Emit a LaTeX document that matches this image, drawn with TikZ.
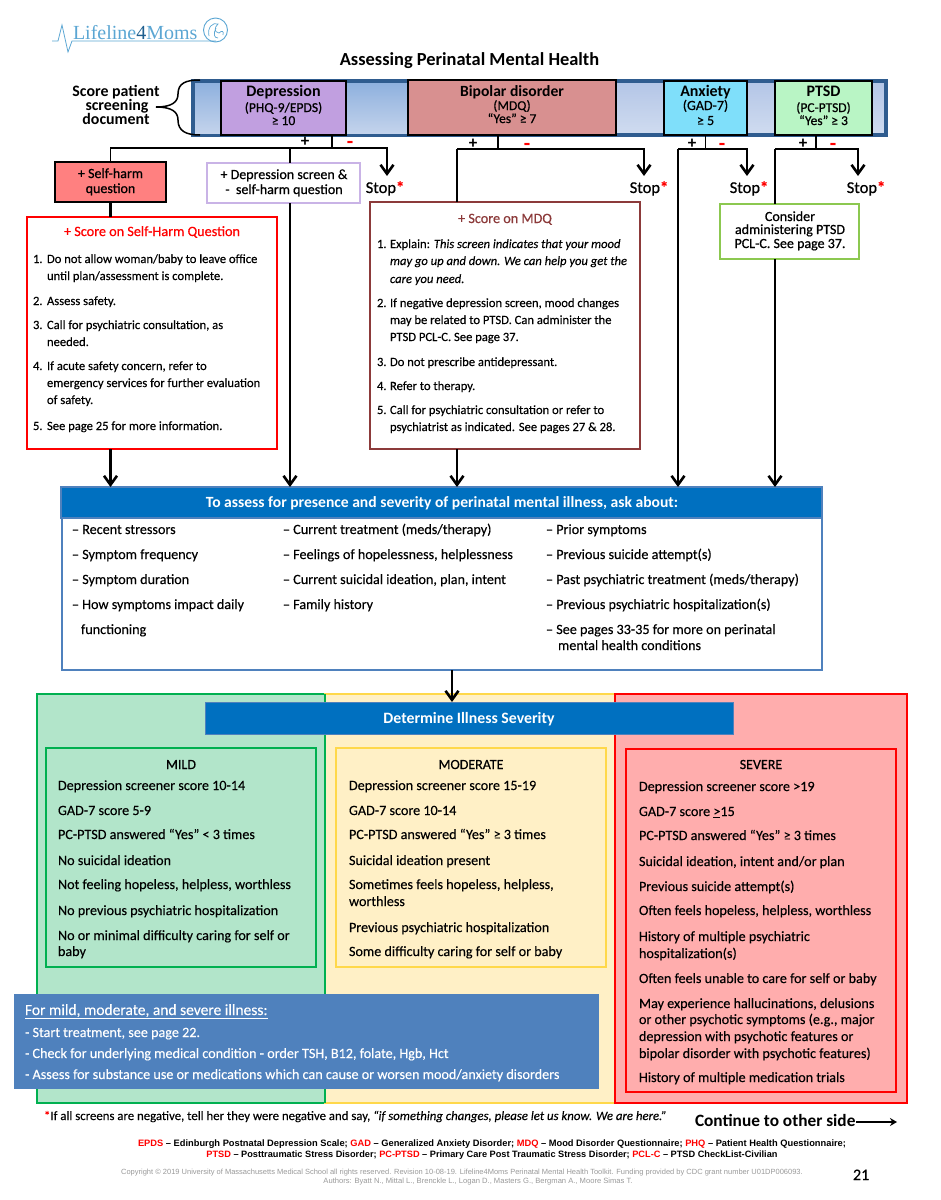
\documentclass[tikz,border=0pt]{standalone}
\usepackage{fontspec}
\setmainfont[FakeBold=0.22,BoldFeatures={FakeBold=0},BoldItalicFeatures={FakeBold=0}]{Carlito}
\newfontfamily\medf[FakeBold=0.6]{Carlito}
\newfontfamily\arialf{Liberation Sans}
\newfontfamily\serifl{Liberation Serif}
\usetikzlibrary{arrows.meta}
\definecolor{barb}{HTML}{2F5C8F}
\definecolor{hdrblue}{HTML}{0070C0}
\definecolor{hdredge}{HTML}{4F81BD}
\definecolor{pmild}{HTML}{B2E5CA}
\definecolor{pmod}{HTML}{FFF0C6}
\definecolor{psev}{HTML}{FFADAD}
\definecolor{egreen}{HTML}{00B050}
\definecolor{eyel}{HTML}{FFD84A}
\definecolor{lilac}{HTML}{C9B3E6}
\definecolor{mdqred}{HTML}{8C3A3A}
\definecolor{lime}{HTML}{8CC850}
\definecolor{logob}{HTML}{5BA6D3}
\definecolor{logod}{HTML}{1F5F8F}
\definecolor{bluebox}{HTML}{4F81BD}
\definecolor{bartop}{HTML}{8FB1DE}
\definecolor{barbot}{HTML}{C3D3EC}
\definecolor{bartopb}{HTML}{B3C5E6}
\definecolor{barbotb}{HTML}{D0DCF0}
\newcommand{\fs}[1]{\fontsize{#1}{#1}\selectfont}
\newcounter{tc}
\newcommand{\tl}[4][]{\stepcounter{tc}\node[tx,#1] (t\arabic{tc}) at (#2,#3+4) {#4};}
\newcommand{\tcn}[4][]{\stepcounter{tc}\node[tx,anchor=base,#1] (t\arabic{tc}) at (#2,#3+4) {#4};}
\newcommand{\bx}[6][]{\pgfmathsetmacro\cxx{(#3+#5)/2}\pgfmathsetmacro\cyy{(#4+#6)/2}\pgfmathsetmacro\wxx{#5-#3}\pgfmathsetmacro\hyy{#6-#4}\node[rectangle,inner sep=0pt,outer sep=0pt,minimum width=\wxx pt,minimum height=\hyy pt,#1] (#2) at (\cxx,\cyy) {};}
\newcommand{\stopmark}[3]{\node[tx,anchor=base,font=\medf\fs{16.5}] (#1) at (#2,#3+5) {Stop{\color{red}\bfseries *}};}
\tikzset{
  tx/.style={inner sep=0pt,outer sep=0pt,anchor=base west,font=\fs{14.15},text=black},
  sm/.style={font=\fs{12.6}},
  md/.style={font=\medf\fs{14}},
  lnk/.style={draw=black,line width=1.6pt},
  lnkb/.style={draw=black,line width=2.6pt},
  arr/.style={draw=black,line width=2.6pt,-{Straight Barb[length=9pt,width=13pt,line width=2.6pt]}},
  plusm/.style={tx,anchor=center,font=\fs{17}\bfseries},
  minusm/.style={tx,anchor=center,font=\fs{21}\bfseries,text=red}
}
\begin{document}
\begin{tikzpicture}[x=1pt,y=-1pt]
\useasboundingbox (0,0) rectangle (941,1200);
% logo
\node[tx,font=\serifl\fs{20},text=logob] (logotext) at (73,39) {Lifeline{\color{logod}4}Moms};
\coordinate (lg0) at (52,41);
\coordinate (lg9) at (216,41);
\draw[logob,line width=0.8pt] (lg0) -- (58,41) -- (62,25) -- (68,52) -- (72,41) -- (lg9);
\node[circle,draw=logob,line width=0.9pt,minimum size=24pt,inner sep=0pt] (logoc) at (215.5,30) {};
\draw[logob,line width=0.7pt] (209,36) .. controls (207,27) and (213,22) .. (218,24) .. controls (214,28) and (214,32) .. (219,33) .. controls (222,30) and (224,31) .. (223,35) (216,28) .. controls (213,34) and (214,38) .. (218,38);
% title
\node[tx,anchor=base,font=\fs{18.4}\bfseries] (title) at (469.5,65) {Assessing Perinatal Mental Health};
% top bar
\bx[draw=barb,line width=3.5pt,top color=bartopb,bottom color=barbotb]{bar}{193}{81}{886}{135}
\bx[top color=bartop,bottom color=barbot]{bl}{195}{83}{221}{133}
\bx[top color=bartop,bottom color=barbot]{bm}{346}{83}{408}{133}
\bx[draw=black,line width=1.4pt,fill={rgb,255:red,193;green,159;blue,224}]{dep}{221}{81}{346}{135}
\bx[draw=black,line width=1.4pt,fill={rgb,255:red,216;green,144;blue,144}]{bip}{408}{80}{616}{135}
\bx[draw=black,line width=1.4pt,fill={rgb,255:red,127;green,223;blue,250}]{anx}{664}{81}{747}{135}
\bx[draw=black,line width=1.4pt,fill={rgb,255:red,185;green,245;blue,197}]{pts}{775}{81}{872}{135}
\tcn[font=\fs{16}\bfseries]{283.5}{92}{Depression}
\tcn[md,font=\medf\fs{13.6}]{283.5}{108}{(PHQ-9/EPDS)}
\tcn[md,font=\medf\fs{13.6}]{283.5}{121}{≥ 10}
\tcn[font=\fs{15.6}\bfseries]{512}{92}{Bipolar disorder}
\tcn[font=\medf\fs{13.5}]{512}{106}{(MDQ)}
\tcn[font=\medf\fs{13.5}]{512}{119}{“Yes” ≥ 7}
\tcn[font=\fs{16}\bfseries]{705.5}{92}{Anxiety}
\tcn[font=\medf\fs{14}]{705.5}{106}{(GAD-7)}
\tcn[font=\medf\fs{14}]{705.5}{121}{≥ 5}
\tcn[font=\fs{16}\bfseries]{823.5}{92}{PTSD}
\tcn[font=\medf\fs{13.5}]{823.5}{108}{(PC-PTSD)}
\tcn[font=\medf\fs{13.5}]{823.5}{121}{“Yes” ≥ 3}
% score label and brace
\tcn[font=\fs{15.9}\bfseries]{116}{92}{Score patient}
\tcn[font=\fs{15.9}\bfseries]{117}{106}{screening}
\tcn[font=\fs{15.9}\bfseries]{116}{120}{document}
\coordinate (brt) at (200,80);
\coordinate (brb) at (200,135);
\coordinate (brc) at (156,107);
\draw[black,line width=1.5pt] (brt) .. controls (186,80) and (178,83) .. (178,94) .. controls (178,102) and (172,107) .. (brc) .. controls (172,107) and (178,112) .. (178,120) .. controls (178,131) and (186,135) .. (brb);
% boxes row 2
\bx[draw=black,line width=1.5pt,fill={rgb,255:red,255;green,128;blue,128}]{shq}{55}{162}{166}{202}
\tcn[md]{110.5}{174}{+ Self-harm}
\tcn[md]{110.5}{189}{question}
\bx[draw=lilac,line width=2.6pt,fill=white]{dsq}{207}{163}{360}{203}
\tcn[md]{284}{175}{+ Depression screen \&}
\tcn[md]{284}{190}{-\ \ self-harm question}
% self-harm box
\bx[draw=red,line width=2.2pt,fill=white]{shb}{27}{217}{277}{449}
\tcn[font=\medf\fs{14.2},text=red]{152}{232}{+ Score on Self-Harm Question}
\tl[sm]{33}{259}{1.}\tl[sm]{47}{259}{Do not allow woman/baby to leave office}
\tl[sm]{47}{276}{until plan/assessment is complete.}
\tl[sm]{33}{301}{2.}\tl[sm]{47}{301}{Assess safety.}
\tl[sm]{33}{325}{3.}\tl[sm]{47}{325}{Call for psychiatric consultation, as}
\tl[sm]{47}{342}{needed.}
\tl[sm]{33}{366}{4.}\tl[sm]{47}{366}{If acute safety concern, refer to}
\tl[sm]{47}{383}{emergency services for further evaluation}
\tl[sm]{47}{400}{of safety.}
\tl[sm]{33}{426}{5.}\tl[sm]{47}{426}{See page 25 for more information.}
% MDQ box
\bx[draw=mdqred,line width=2.2pt,fill=white]{mdq}{370}{202}{640}{449}
\tcn[font=\medf\fs{14.2},text=mdqred]{505}{219}{+ Score on MDQ}
\tl[sm]{377}{244}{1.}\tl[sm]{390}{244}{Explain: \textit{This screen indicates that your mood}}
\tl[sm]{390}{261}{\textit{may go up and down. We can help you get the}}
\tl[sm]{390}{279}{\textit{care you need.}}
\tl[sm]{377}{303}{2.}\tl[sm]{390}{303}{If negative depression screen, mood changes}
\tl[sm]{390}{320}{may be related to PTSD. Can administer the}
\tl[sm]{390}{337}{PTSD PCL-C. See page 37.}
\tl[sm]{377}{362}{3.}\tl[sm]{390}{362}{Do not prescribe antidepressant.}
\tl[sm]{377}{386}{4.}\tl[sm]{390}{386}{Refer to therapy.}
\tl[sm]{377}{410}{5.}\tl[sm]{390}{410}{Call for psychiatric consultation or refer to}
\tl[sm]{390}{427}{psychiatrist as indicated. See pages 27 \& 28.}
% PCL box
\bx[draw=lime,line width=2.2pt,fill=white]{pcl}{720}{204}{859}{259}
\tcn[md]{790}{217}{Consider}
\tcn[md]{790}{230}{administering PTSD}
\tcn[md]{790}{244}{PCL-C. See page 37.}
% stop labels
\stopmark{st1}{385}{188}
\stopmark{st2}{649}{188}
\stopmark{st3}{749}{188}
\stopmark{st4}{866}{188}
% assess header and box
\bx[draw=hdredge,line width=1.4pt,fill=white]{asb}{62}{518}{822}{670}
\bx[draw=hdredge,line width=1.4pt,fill=hdrblue]{ash}{61}{487}{822}{518}
\tcn[font=\fs{15.6}\bfseries,text=white]{442}{503}{To assess for presence and severity of perinatal mental illness, ask about:}
\tl{72}{530}{– Recent stressors}
\tl{72}{555}{– Symptom frequency}
\tl{72}{580}{– Symptom duration}
\tl{72}{605}{– How symptoms impact daily}
\tl{81}{630}{functioning}
\tl{283}{530}{– Current treatment (meds/therapy)}
\tl{283}{555}{– Feelings of hopelessness, helplessness}
\tl{283}{580}{– Current suicidal ideation, plan, intent}
\tl{283}{605}{– Family history}
\tl{546}{530}{– Prior symptoms}
\tl{546}{555}{– Previous suicide attempt(s)}
\tl{546}{580}{– Past psychiatric treatment (meds/therapy)}
\tl{546}{605}{– Previous psychiatric hospitalization(s)}
\tl{546}{630}{– See pages 33-35 for more on perinatal}
\tl{558}{646}{mental health conditions}
% severity panels
\bx[draw=egreen,line width=1.2pt,fill=pmild]{pm}{37}{694}{325}{1103}
\bx[draw=eyel,line width=1.2pt,fill=pmod]{pd}{325}{694}{615}{1103}
\bx[draw=red,line width=1.2pt,fill=psev]{ps}{615}{694}{907}{1103}
\draw[egreen,line width=1.2pt] (pm.north east) -- (pm.south east);
\bx[draw=hdredge,line width=0.8pt,fill=hdrblue]{dis}{205}{702}{733}{734}
\tcn[font=\fs{15.8}\bfseries,text=white]{469}{719}{Determine Illness Severity}
\bx[draw=egreen,line width=2.2pt]{mi}{46}{748}{316}{967}
\bx[draw=eyel,line width=2.2pt]{mo}{336}{748}{606}{967}
\bx[draw=red,line width=2.2pt]{se}{626}{749}{896}{1092}
\tcn[md]{181}{765}{MILD}
\tl{58}{786}{Depression screener score 10-14}
\tl{58}{811}{GAD-7 score 5-9}
\tl{58}{835}{PC-PTSD answered “Yes” < 3 times}
\tl{58}{861}{No suicidal ideation}
\tl{58}{885}{Not feeling hopeless, helpless, worthless}
\tl{58}{911}{No previous psychiatric hospitalization}
\tl{58}{936}{No or minimal difficulty caring for self or}
\tl{58}{952}{baby}
\tcn[md]{471}{765}{MODERATE}
\tl{349}{786}{Depression screener score 15-19}
\tl{349}{811}{GAD-7 score 10-14}
\tl{349}{835}{PC-PTSD answered “Yes” ≥ 3 times}
\tl{349}{861}{Suicidal ideation present}
\tl{349}{885}{Sometimes feels hopeless, helpless,}
\tl{349}{902}{worthless}
\tl{349}{928}{Previous psychiatric hospitalization}
\tl{349}{952}{Some difficulty caring for self or baby}
\tcn[md]{761}{765}{SEVERE}
\tl{639}{787}{Depression screener score >19}
\tl{639}{812}{GAD-7 score \underline{>}15}
\tl{639}{836}{PC-PTSD answered “Yes” ≥ 3 times}
\tl{639}{862}{Suicidal ideation, intent and/or plan}
\tl{639}{887}{Previous suicide attempt(s)}
\tl{639}{911}{Often feels hopeless, helpless, worthless}
\tl{639}{937}{History of multiple psychiatric}
\tl{639}{954}{hospitalization(s)}
\tl{639}{979}{Often feels unable to care for self or baby}
\tl{639}{1004}{May experience hallucinations, delusions}
\tl{639}{1020}{or other psychotic symptoms (e.g., major}
\tl{639}{1037}{depression with psychotic features or}
\tl{639}{1054}{bipolar disorder with psychotic features)}
\tl{639}{1078}{History of multiple medication trials}
% blue box
\bx[fill=bluebox]{bb}{14}{994}{599}{1089}
\tl[font=\fs{15.5},text=white]{25}{1011}{\underline{For mild, moderate, and severe illness:}}
\tl[text=white]{25}{1033}{- Start treatment, see page 22.}
\tl[text=white]{25}{1054}{- Check for underlying medical condition - order TSH, B12, folate, Hgb, Hct}
\tl[text=white]{25}{1075}{- Assess for substance use or medications which can cause or worsen mood/anxiety disorders}
% footer
\tl[font=\fs{12.8}]{44}{1116}{{\color{red}*}If all screens are negative, tell her they were negative and say, \textit{“if something changes, please let us know. We are here.”}}
\tl[font=\fs{17.3}\bfseries]{695}{1122}{Continue to other side}
\coordinate (cont2) at (897,1122);
\draw[draw=black,line width=2pt,-{Stealth[length=7pt,width=8pt]}] (856,1122) -- (cont2);
\tcn[font=\arialf\fs{9.3}\bfseries]{492}{1142}{{\color{red}EPDS} – Edinburgh Postnatal Depression Scale; {\color{red}GAD} – Generalized Anxiety Disorder; {\color{red}MDQ} – Mood Disorder Questionnaire; {\color{red}PHQ} – Patient Health Questionnaire;}
\tcn[font=\arialf\fs{9.2}\bfseries]{492}{1153}{{\color{red}PTSD} – Posttraumatic Stress Disorder; {\color{red}PC-PTSD} – Primary Care Post Traumatic Stress Disorder; {\color{red}PCL-C} – PTSD CheckList-Civilian}
\tcn[font=\arialf\fs{7.5},text=gray!80]{462}{1170}{Copyright © 2019 University of Massachusetts Medical School all rights reserved. Revision 10-08-19. Lifeline4Moms Perinatal Mental Health Toolkit. Funding provided by CDC grant number U01DP006093.}
\tcn[font=\arialf\fs{7.6},text=gray!80]{478}{1179}{Authors: Byatt N., Mittal L., Brenckle L., Logan D., Masters G., Bergman A., Moore Simas T.}
\tl[font=\fs{16}]{853}{1176}{21}
% connectors: depression
\coordinate (dj) at (332,148);
\coordinate (da) at (387,176);
\draw[lnk] (dep.south -| dj) -- (dj);
\draw[lnk] (shq.north) |- (dj);
\coordinate (dsx) at (290,148);
\draw[lnk] (dsx) -- (dsq.north -| dsx);
\draw[arr] (dj) -| (da);
\draw[lnkb] (shq.south) -- (shb.north -| shq.south);
\coordinate (c1) at (110.5,487);
\draw[arr] (shb.south -| c1) -- (ash.north -| c1);
\coordinate (c2) at (290,487);
\draw[arr] (dsq.south -| c2) -- (ash.north -| c2);
% connectors: bipolar
\coordinate (bj) at (498,149);
\coordinate (bl2) at (457,149);
\coordinate (ba) at (644,176);
\draw[lnk] (bip.south -| bj) -- (bj);
\draw[lnk] (bl2) -- (bj);
\draw[lnk] (bl2) -- (mdq.north -| bl2);
\draw[arr] (bj) -| (ba);
\draw[arr] (mdq.south -| bl2) -- (ash.north -| bl2);
% connectors: anxiety
\coordinate (aj) at (705.5,149);
\coordinate (al) at (678,149);
\coordinate (aa) at (747,176);
\draw[lnk] (anx.south -| aj) -- (aj);
\draw[lnk] (al) -- (aj);
\draw[arr] (al) -- (ash.north -| al);
\draw[arr] (aj) -| (aa);
% connectors: ptsd
\coordinate (pj) at (816,149);
\coordinate (pl) at (775,149);
\coordinate (pa) at (858,176);
\draw[lnk] (pts.south -| pj) -- (pj);
\draw[lnk] (pl) -- (pj);
\draw[lnk] (pl) -- (pcl.north -| pl);
\draw[arr] (pj) -| (pa);
\draw[arr] (pcl.south -| pl) -- (ash.north -| pl);
% assess -> severity
\coordinate (sv) at (452,670);
\draw[arr] (asb.south -| sv) -- (dis.north -| sv);
% signs
\node[plusm] (p1) at (305,142) {+};
\node[minusm] (m1) at (350,145) {-};
\node[plusm] (p2) at (473,144) {+};
\node[minusm] (m2) at (527,146.5) {-};
\node[plusm] (p3) at (692,144) {+};
\node[minusm] (m3) at (722,146.5) {-};
\node[plusm] (p4) at (803,144) {+};
\node[minusm] (m4) at (833,146.5) {-};
\end{tikzpicture}
\end{document}
